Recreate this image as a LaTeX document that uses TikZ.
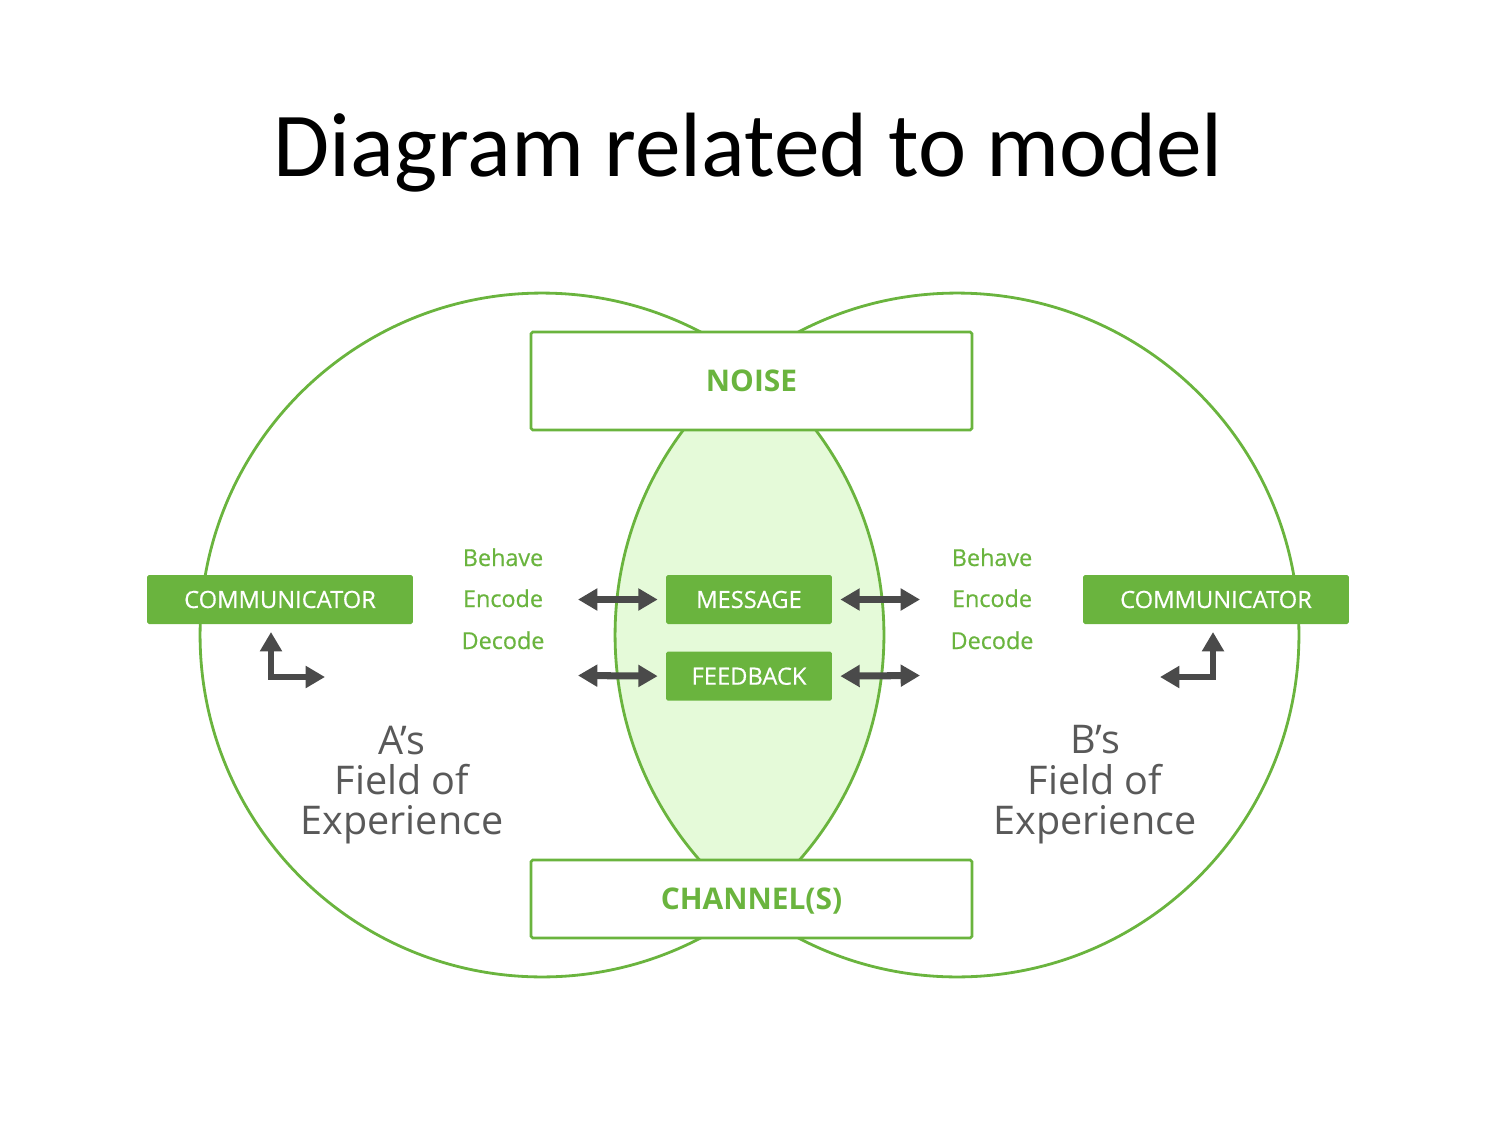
\documentclass[tikz,border=0pt]{standalone}
\usepackage{fontspec}
\setmainfont{Open Sans}
\newfontfamily\titlefont{Carlito}
\newfontfamily\boxfont[FakeBold=0.5]{Open Sans}
\usepackage{xcolor}
\definecolor{leaf}{HTML}{6AB43E}
\definecolor{lensfill}{HTML}{E5FAD9}
\definecolor{ink}{HTML}{4A4A4A}
\definecolor{fieldgray}{HTML}{595959}
\usetikzlibrary{arrows.meta, positioning, calc}
\tikzset{%
    ring/.style={%
        draw=leaf, line width=1.6pt
    },
    frame/.style={%
        draw=leaf, line width=1.5pt, fill=white, rounded corners=1pt, text depth=0pt,
        minimum width=8.82cm, text=leaf, font=\fontsize{17}{20}\selectfont\bfseries
    },
    solidbox/.style={%
        fill=leaf, text=white, rounded corners=1pt, minimum height=0.98cm,
        font=\boxfont\fontsize{13.5}{16}\selectfont
    },
    verb/.style={%
        text=leaf, anchor=base, font=\boxfont\fontsize{13.3}{16}\selectfont
    },
    field/.style={%
        text=fieldgray, align=center, font=\fontsize{22.5}{23}\selectfont
    },
    tip/.tip={Triangle[length=11pt, width=12pt]},
}

\begin{document}
\begin{tikzpicture}[
        x=0.02cm, y=-0.02cm,
        every node/.append style={inner sep=0},
        dbl/.style={tip-tip, color=ink, line width=4pt},
        elbow/.style={tip-tip, color=ink, line width=3.6pt, line join=miter},
    ]
        \def\rad{6.84cm}
        \useasboundingbox (0,0) rectangle (1500,1125);

        \node[font=\titlefont\fontsize{52}{60}\selectfont, anchor=base] (title) at (748,177) {Diagram related to model};

        % fields of experience
        \coordinate (cA) at (542,635);
        \coordinate (cB) at (957,635);
        \begin{scope}
            \clip (cA) circle [radius=\rad];
            \fill[lensfill] (cB) circle [radius=\rad];
        \end{scope}
        \draw[ring] (cA) circle [radius=\rad];
        \draw[ring] (cB) circle [radius=\rad];

        \node[frame, minimum height=1.96cm] (noise) at (751.5,381) {NOISE};
        \node[frame, minimum height=1.56cm] (channel) at (751.5,899) {CHANNEL(S)};

        \node[solidbox, minimum width=5.32cm] (commA) at (280,599.5) {COMMUNICATOR};
        \node[solidbox, minimum width=5.32cm] (commB) at (1216,599.5) {COMMUNICATOR};
        \node[solidbox, minimum width=3.32cm] (msg) at (749,599.5) {MESSAGE};
        \node[solidbox, minimum width=3.32cm, below=0.54cm of msg] (fb) {FEEDBACK};

        \node[verb] (behaveA) at (503,566) {Behave};
        \node[verb] (encodeA) at (503,607) {Encode};
        \node[verb] (decodeA) at (503,649) {Decode};
        \node[verb] (behaveB) at (992,566) {Behave};
        \node[verb] (encodeB) at (992,607) {Encode};
        \node[verb] (decodeB) at (992,649) {Decode};

        \node[field] (fieldA) at (402,785) {A’s\\Field of\\Experience};
        \node[field] (fieldB) at (1095,785) {B’s\\Field of\\Experience};

        % arrows
        \coordinate (mA) at (578,599.5);
        \coordinate (fA) at (578,675.5);
        \coordinate (mB) at (920,599.5);
        \coordinate (fB) at (920,675.5);
        \draw[dbl, shorten >=0.16cm] (mA) -- (msg.west);
        \draw[dbl, shorten >=0.16cm] (fA) -- (fb.west);
        \draw[dbl, shorten <=0.16cm] (msg.east) -- (mB);
        \draw[dbl, shorten <=0.16cm] (fb.east) -- (fB);

        \coordinate (upA) at (271,632);
        \coordinate (sideA) at (325,677);
        \coordinate (upB) at (1213,632);
        \coordinate (sideB) at (1160,677);
        \draw[elbow] (upA) |- (sideA);
        \draw[elbow] (upB) |- (sideB);

    \end{tikzpicture}
\end{document}
